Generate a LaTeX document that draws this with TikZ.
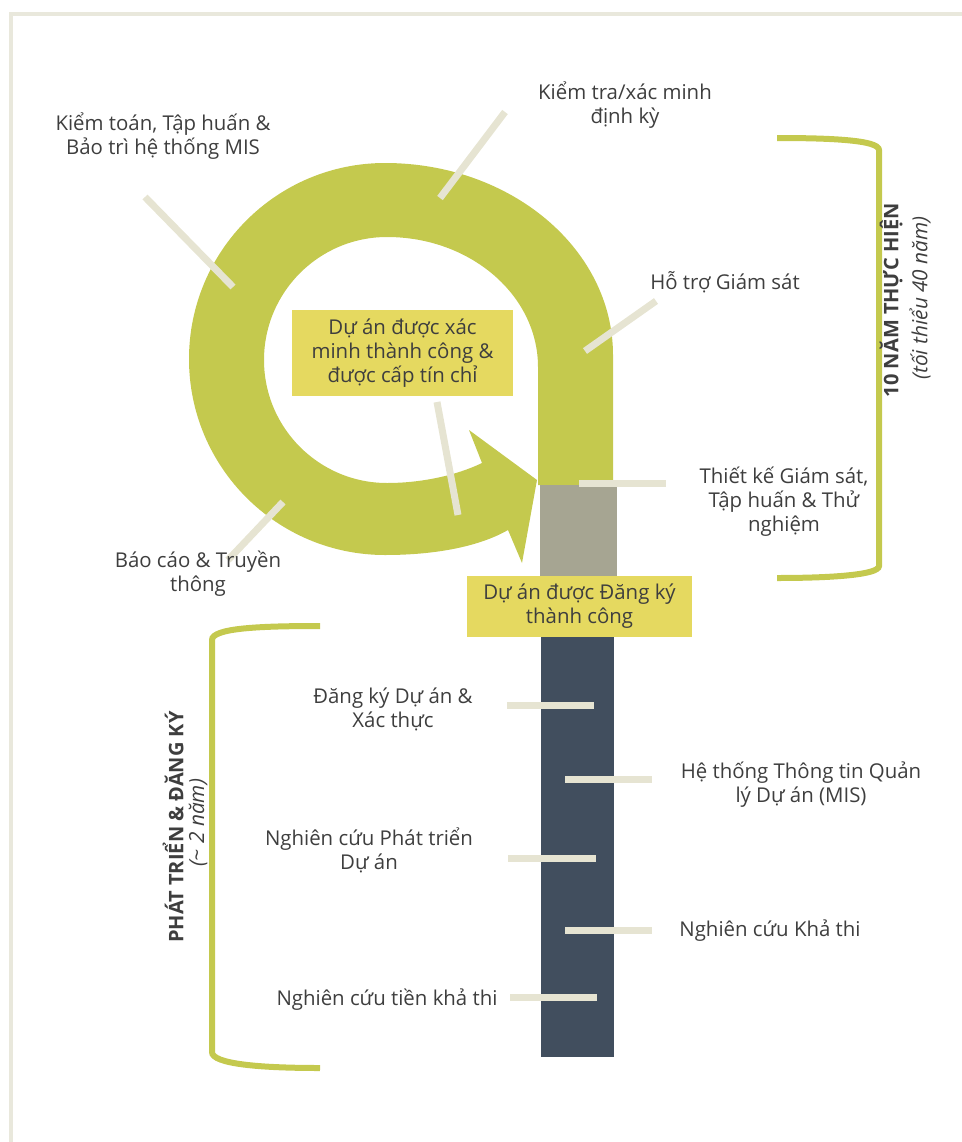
\documentclass[tikz,border=0pt]{standalone}
\usepackage{fontspec}
\setmainfont{Open Sans}
\definecolor{ringgreen}{RGB}{196,201,78}
\definecolor{tagyellow}{RGB}{229,217,96}
\definecolor{tickbeige}{RGB}{230,228,210}
\definecolor{framebeige}{RGB}{233,232,220}
\definecolor{stepgray}{RGB}{166,165,146}
\definecolor{columnblue}{RGB}{65,78,94}
\definecolor{textgray}{RGB}{62,62,62}
\tikzset{
  lbl/.style={text=textgray, align=center, inner sep=0pt, font=\fontsize{15.3}{18}\selectfont},
  tag/.style={lbl, fill=tagyellow},
  tick/.style={draw=tickbeige, line width=5.25pt},
  brace/.style={draw=ringgreen, line width=4.5pt},
  phase/.style={text=textgray, rotate=90, inner sep=0pt, font=\fontsize{15}{18}\selectfont\bfseries},
  phasenote/.style={text=textgray, rotate=90, inner sep=0pt, font=\fontsize{15.6}{18}\selectfont\itshape}
}
\begin{document}
\begin{tikzpicture}[x=0.75pt,y=-0.75pt]

   \useasboundingbox (0,0) rectangle (962,1142);
   \draw[framebeige, line width=3pt] (11,1142) -- (11,14) -- (962,14);

   \fill[ringgreen] (613,485) -- (613,355)
      arc[start angle=0, end angle=-90, x radius=228, y radius=192]
      arc[start angle=-90, end angle=-270, radius=196]
      .. controls (440,555) and (482,545) .. (508,530)
      -- (522,563) -- (537,480) -- (469,430) -- (482,463)
      .. controls (455,476) and (420,483) .. (387,483)
      arc[start angle=90, end angle=270, radius=123]
      arc[start angle=-90, end angle=0, x radius=151, y radius=130]
      -- (538,485) -- cycle;

   \fill[stepgray] (540,485) rectangle (617,580);
   \fill[columnblue] (541,630) rectangle (614,1057);

   \node[tag, minimum width=165.75pt, minimum height=64.5pt] (verified) at (402.5,353)
      {Dự án được xác\\minh thành công \&\\được cấp tín chỉ};
   \node[tag, minimum width=168.75pt, minimum height=45.75pt] (registered) at (579.5,606.5)
      {Dự án được Đăng ký\\thành công};

   \draw[tick] (145,197) -- (233,287);
   \draw[tick] (505,112) -- (440,198);
   \draw[tick] (656,301) -- (585,351);
   \draw[tick] (579,483) -- (666,483);
   \draw[tick] (283,502) -- (228,560);
   \draw[tick] (437,402) -- (458,515);
   \draw[tick] (507,705) -- (594,705);
   \draw[tick] (565,779) -- (652,779);
   \draw[tick] (508,858) -- (596,858);
   \draw[tick] (565,930) -- (652,930);
   \draw[tick] (510,997) -- (597,997);

   \node[lbl] (audit) at (163,136) {Kiểm toán, Tập huấn \&\\Bảo trì hệ thống MIS};
   \node[lbl] (check) at (625,105) {Kiểm tra/xác minh\\định kỳ};
   \node[lbl] (support) at (725,282) {Hỗ trợ Giám sát};
   \node[lbl] (design) at (784,502) {Thiết kế Giám sát,\\Tập huấn \& Thử\\nghiệm};
   \node[lbl] (report) at (198,574) {Báo cáo \& Truyền\\thông};
   \node[lbl] (register) at (393,709) {Đăng ký Dự án \&\\Xác thực};
   \node[lbl] (mis) at (801,785) {Hệ thống Thông tin Quản\\lý Dự án (MIS)};
   \node[lbl] (develop) at (369,850) {Nghiên cứu Phát triển\\Dự án};
   \node[lbl] (feasible) at (770,931) {Nghiên cứu Khả thi};
   \node[lbl] (prefeasible) at (387,1000) {Nghiên cứu tiền khả thi};

   \draw[brace] (777,138) .. controls (830,138) and (879,140) .. (879,150)
      -- (879,566) .. controls (879,575) and (830,578) .. (777,578);
   \draw[brace] (320,626) .. controls (260,626) and (212,628) .. (212,640)
      -- (212,1052) .. controls (212,1064) and (260,1068) .. (320,1068);

   \node[phase] (run) at (891,300) {10 NĂM THỰC HIỆN};
   \node[phasenote] (runnote) at (920,298) {(tối thiểu 40 năm)};
   \node[phase] (dev) at (173,827) {PHÁT TRIỂN \& ĐĂNG KÝ};
   \node[phasenote] (devnote) at (198,823) {(\textasciitilde{} 2 năm)};

\end{tikzpicture}
\end{document}
